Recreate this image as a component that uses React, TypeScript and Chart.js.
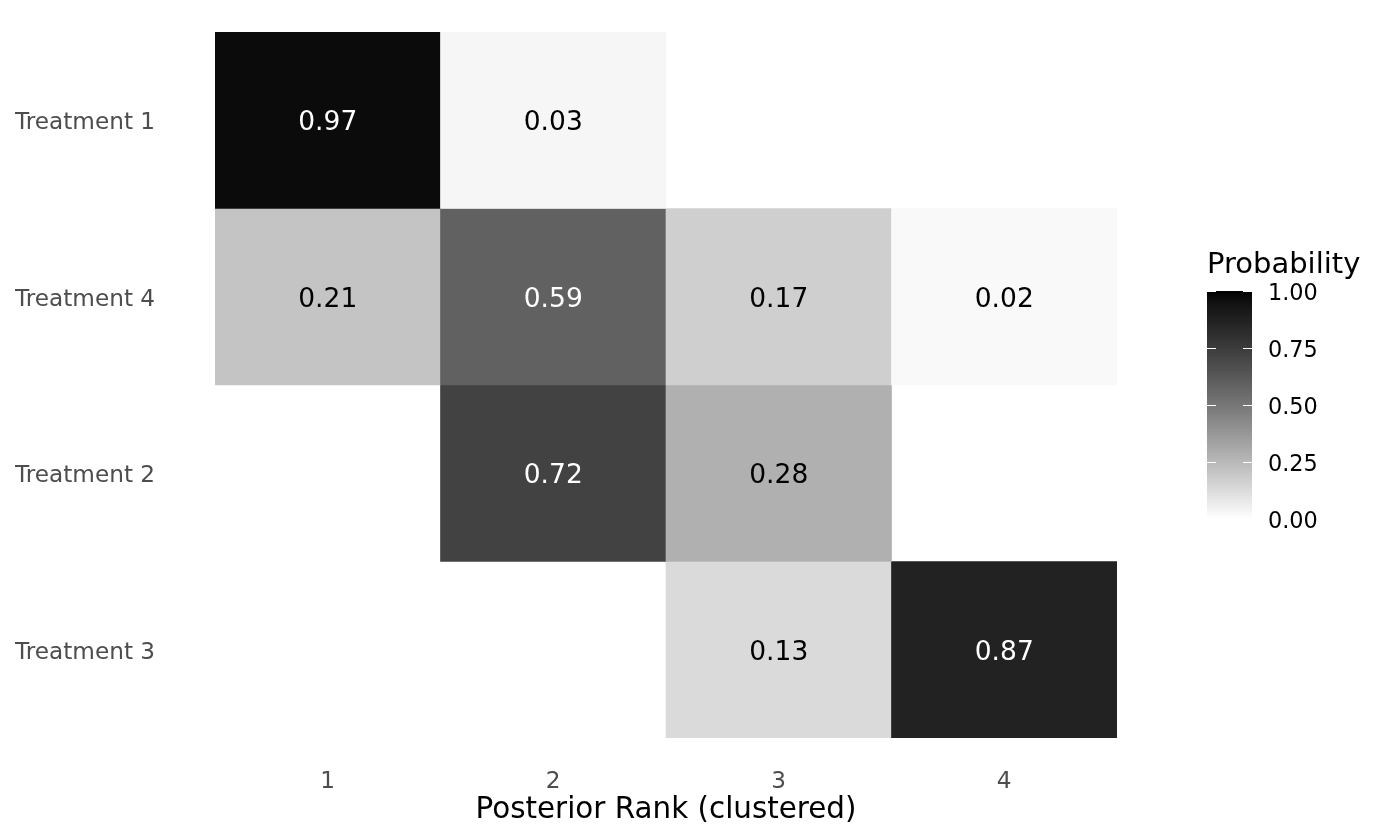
import React, { useEffect, useRef } from 'react';
import { Chart, registerables } from 'chart.js';

Chart.register(...registerables);

const ranks = ['1', '2', '3', '4'];
const treatments = ['Treatment 1', 'Treatment 4', 'Treatment 2', 'Treatment 3'];
const treatment1 = [0.97, 0.03, null, null];
const treatment4 = [0.21, 0.59, 0.17, 0.02];
const treatment2 = [null, 0.72, 0.28, null];
const treatment3 = [null, null, 0.13, 0.87];
const rowValues: (number | null)[][] = [treatment1, treatment4, treatment2, treatment3];
const legendBreaks = [0, 0.25, 0.5, 0.75, 1];
const legendLabels = ['0.00', '0.25', '0.50', '0.75', '1.00'];
const legendTitle = 'Probability';
const xTitle = 'Posterior Rank (clustered)';

const FONT = "'DejaVu Sans', 'Liberation Sans', sans-serif";

// white -> black interpolated in CIE Lab (like ggplot's scale_fill_gradient)
function gray(v: number): string {
  const L = 100 * (1 - v);
  const Y = L > 8 ? Math.pow((L + 16) / 116, 3) : L / 903.3;
  const s = Y <= 0.0031308 ? 12.92 * Y : 1.055 * Math.pow(Y, 1 / 2.4) - 0.055;
  const c = Math.max(0, Math.min(255, Math.round(s * 255)));
  return `rgb(${c},${c},${c})`;
}

const cellLabelPlugin = {
  id: 'cellLabels',
  afterDatasetsDraw(chart: any) {
    const ctx = chart.ctx;
    ctx.save();
    ctx.font = `26.5px ${FONT}`;
    ctx.textAlign = 'center';
    ctx.textBaseline = 'middle';
    chart.data.datasets.forEach((ds: any, di: number) => {
      const meta = chart.getDatasetMeta(di);
      meta.data.forEach((el: any, i: number) => {
        const v = ds.probs[i];
        if (v == null) return;
        const cy = (el.y + el.base) / 2 + 3;
        ctx.fillStyle = v > 0.5 ? '#ffffff' : '#000000';
        ctx.fillText(v.toFixed(2), el.x, cy);
      });
    });
    ctx.restore();
  },
};

const colorbarPlugin = {
  id: 'colorbar',
  afterDraw(chart: any) {
    const ctx = chart.ctx;
    const area = chart.chartArea;
    const x0 = area.right + 90;
    const x1 = x0 + 45;
    const yTop = 291;
    const yBot = 519;
    const h = yBot - yTop;
    ctx.save();
    for (let y = yTop; y < yBot; y++) {
      const v = 1 - (y + 0.5 - yTop) / h;
      ctx.fillStyle = gray(v);
      ctx.fillRect(x0, y, x1 - x0, 1);
    }
    ctx.strokeStyle = '#ffffff';
    ctx.lineWidth = 1;
    legendBreaks.forEach((b) => {
      const y = Math.round(yBot - b * h) + 0.5;
      ctx.beginPath();
      ctx.moveTo(x0, y);
      ctx.lineTo(x0 + 9, y);
      ctx.moveTo(x1 - 9, y);
      ctx.lineTo(x1, y);
      ctx.stroke();
    });
    ctx.fillStyle = '#000000';
    ctx.font = `22.4px ${FONT}`;
    ctx.textAlign = 'left';
    ctx.textBaseline = 'middle';
    legendBreaks.forEach((b, i) => {
      const y = yBot - b * h;
      ctx.fillText(legendLabels[i], x1 + 16, y + 3);
    });
    ctx.font = `29px ${FONT}`;
    ctx.textBaseline = 'alphabetic';
    ctx.fillText(legendTitle, x0, 273);
    ctx.restore();
  },
};

export default function App() {
  const canvasRef = useRef<HTMLCanvasElement | null>(null);

  useEffect(() => {
    document.body.style.margin = '0';
    const canvas = canvasRef.current;
    if (!canvas) return;
    const datasets = rowValues.map((vals, i) => ({
      label: treatments[i],
      data: vals.map((v) => (v == null ? null : [i + 0.5, i + 1.5])),
      probs: vals,
      backgroundColor: vals.map((v) => (v == null ? 'rgba(0,0,0,0)' : gray(v))),
      borderWidth: 0,
      grouped: false,
      barPercentage: 1,
      categoryPercentage: 1,
    }));
    const chart = new Chart(canvas, {
      type: 'bar',
      data: { labels: ranks, datasets: datasets as any },
      options: {
        animation: false,
        responsive: true,
        maintainAspectRatio: false,
        layout: { padding: { top: 32, right: 283, bottom: 0, left: 15 } },
        plugins: {
          legend: { display: false },
          tooltip: { enabled: false },
        },
        scales: {
          x: {
            type: 'category',
            grid: { display: false, drawTicks: false },
            border: { display: false },
            ticks: {
              color: '#4d4d4d',
              font: { family: FONT, size: 23.2 },
              padding: 30,
            },
            title: {
              display: true,
              text: xTitle,
              color: '#000000',
              font: { family: FONT, size: 29.4 },
              padding: { top: 0, bottom: 12 },
            },
            afterFit: (s: any) => {
              s.height = 102;
            },
          },
          y: {
            type: 'linear',
            min: 0.5,
            max: 4.5,
            reverse: true,
            grid: { display: false, drawTicks: false },
            border: { display: false },
            afterBuildTicks: (s: any) => {
              s.ticks = [1, 2, 3, 4].map((v) => ({ value: v }));
            },
            ticks: {
              color: '#4d4d4d',
              font: { family: FONT, size: 23.2 },
              padding: 0,
              crossAlign: 'far',
              labelOffset: 3,
              callback: (v: any) => treatments[Number(v) - 1] ?? '',
            },
            afterFit: (s: any) => {
              s.width = 200;
            },
          },
        },
      },
      plugins: [cellLabelPlugin, colorbarPlugin],
    });
    return () => chart.destroy();
  }, []);

  return (
    <div style={{ width: 1400, height: 840, position: 'relative' }}>
      <canvas ref={canvasRef} />
    </div>
  );
}
